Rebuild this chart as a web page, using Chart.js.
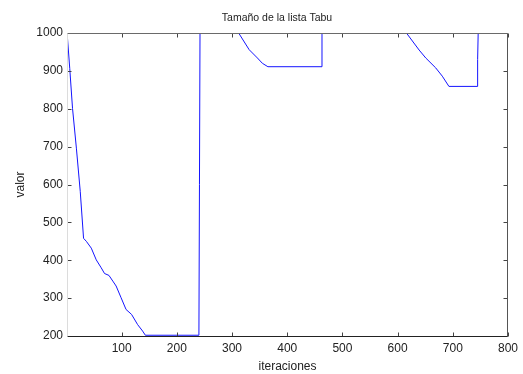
<!DOCTYPE html>
<html>
<head>
<meta charset="utf-8">
<script src="https://cdn.jsdelivr.net/npm/chart.js@4.4.0/dist/chart.umd.min.js"></script>
<style>
  html, body { margin: 0; padding: 0; background: #fff; }
  canvas { display: block; }
</style>
</head>
<body>
<canvas id="tabuChart" width="523" height="374"></canvas>
<script>
// Tamaño de la lista Tabu
const chartTitle = 'Tamaño de la lista Tabu';
const xTitle = 'iteraciones';
const yTitle = 'valor';

const xTicks = [100, 200, 300, 400, 500, 600, 700, 800];
const yTicks = [200, 300, 400, 500, 600, 700, 800, 900, 1000];

const iteraciones = [2, 6, 11, 18, 25, 31, 36, 45, 54, 63, 69, 77, 84, 90, 99, 108, 118, 129, 138, 143,
  240, 241, 242, 312, 331, 346, 355, 365, 463, 463, 616, 639, 651, 669, 681, 693, 745, 745, 746, 747];
const valor = [984, 906, 801, 696, 582, 458, 450, 432, 401, 380, 365, 360, 345, 332, 301, 270, 257, 230, 213, 202,
  202, 600, 1000, 1000, 956, 934, 920, 911, 911, 1000, 1000, 955, 934, 908, 886, 859, 859, 930, 1000, 1000];

const FONT = '"Liberation Sans", Arial, sans-serif';

// caja estilo MATLAB con marcas hacia dentro
const matlabBox = {
  id: 'matlabBox',
  afterDatasetsDraw(chart) {
    const { ctx, chartArea: a, scales } = chart;
    const L = Math.round(a.left) + 0.5, R = Math.round(a.right) - 0.5;
    const T = Math.round(a.top) + 0.5, B = Math.round(a.bottom) + 0.5;
    ctx.save();
    ctx.lineWidth = 1;
    ctx.strokeStyle = '#444';
    xTicks.forEach(v => {
      const px = Math.round(scales.x.getPixelForValue(v)) + 0.5;
      ctx.beginPath(); ctx.moveTo(px, B); ctx.lineTo(px, B - 4); ctx.stroke();
      ctx.beginPath(); ctx.moveTo(px, T); ctx.lineTo(px, T + 4); ctx.stroke();
    });
    yTicks.forEach(v => {
      const py = Math.round(scales.y.getPixelForValue(v)) + 0.5;
      ctx.beginPath(); ctx.moveTo(L, py); ctx.lineTo(L + 4, py); ctx.stroke();
      ctx.beginPath(); ctx.moveTo(R, py); ctx.lineTo(R - 4, py); ctx.stroke();
    });
    const edge = (x1, y1, x2, y2, c) => {
      ctx.strokeStyle = c;
      ctx.beginPath(); ctx.moveTo(x1, y1); ctx.lineTo(x2, y2); ctx.stroke();
    };
    edge(L, T, R, T, '#6a6a6a');
    edge(R, T, R, B, '#555');
    edge(L, B, R, B, '#222');
    edge(L, T, L, B, '#dcdcdc');
    ctx.restore();
  },
  afterDraw(chart) {
    const { ctx } = chart;
    ctx.save();
    ctx.fillStyle = '#222';
    ctx.font = '10.5px ' + FONT;
    ctx.textAlign = 'center';
    ctx.textBaseline = 'alphabetic';
    ctx.fillText(chartTitle, 277, 21);
    ctx.restore();
  }
};

new Chart(document.getElementById('tabuChart').getContext('2d'), {
  type: 'line',
  data: {
    datasets: [{
      data: iteraciones.map((x, i) => ({ x, y: valor[i] })),
      borderColor: 'rgb(20,20,255)',
      borderWidth: 1,
      pointRadius: 0,
      tension: 0,
      fill: false
    }]
  },
  options: {
    responsive: false,
    animation: false,
    layout: { padding: { left: 0, right: 14, top: 33, bottom: 0 } },
    plugins: { legend: { display: false }, tooltip: { enabled: false }, title: { display: false } },
    scales: {
      x: {
        type: 'linear', min: 1, max: 800,
        afterBuildTicks: s => { s.ticks = xTicks.map(v => ({ value: v })); },
        afterFit: s => { s.height = 38; },
        grid: { display: false, drawTicks: false },
        border: { display: false },
        ticks: { color: '#222', font: { family: FONT, size: 12 }, padding: 5, maxRotation: 0, autoSkip: false,
          callback: v => String(v) },
        title: { display: true, text: xTitle, color: '#222', font: { family: FONT, size: 12 }, padding: { top: 0, bottom: 0 } }
      },
      y: {
        type: 'linear', min: 200, max: 1000,
        afterBuildTicks: s => { s.ticks = yTicks.map(v => ({ value: v })); },
        afterFit: s => { s.width = 67; },
        grid: { display: false, drawTicks: false },
        border: { display: false },
        ticks: { color: '#222', font: { family: FONT, size: 12 }, padding: 4, autoSkip: false,
          callback: v => String(v) },
        title: { display: true, text: yTitle, color: '#222', font: { family: FONT, size: 12 }, padding: { top: 13, bottom: 0 } }
      }
    }
  },
  plugins: [matlabBox]
});
</script>
</body>
</html>
